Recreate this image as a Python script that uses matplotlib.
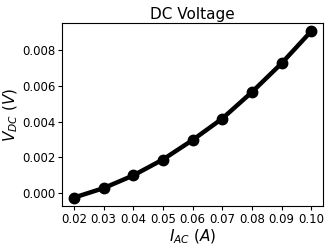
import matplotlib
matplotlib.use("Agg")
import matplotlib.pyplot as plt

# Data
i_ac = [0.02, 0.03, 0.04, 0.05, 0.06, 0.07, 0.08, 0.09, 0.10]
v_dc = [-0.00025, 0.00028, 0.00099, 0.00188, 0.00297, 0.00417, 0.00565, 0.00726, 0.00906]

fig = plt.figure(figsize=(3.32, 2.49), dpi=100)
ax = fig.add_axes([0.187, 0.173, 0.786, 0.735])

ax.plot(i_ac, v_dc, "k-", marker="o", linewidth=3.2, markersize=7.5)

ax.set_title("DC Voltage", fontsize=11, pad=3)
ax.set_xlabel(r"$I_{AC}$ $(A)$", fontsize=11, labelpad=1)
ax.set_ylabel(r"$V_{DC}$ $(V)$", fontsize=11, labelpad=1)
ax.set_xticks(i_ac)
ax.set_yticks([0.0, 0.002, 0.004, 0.006, 0.008])
ax.tick_params(labelsize=8.5, length=3, pad=2)

fig.savefig("out.png", dpi=100)
